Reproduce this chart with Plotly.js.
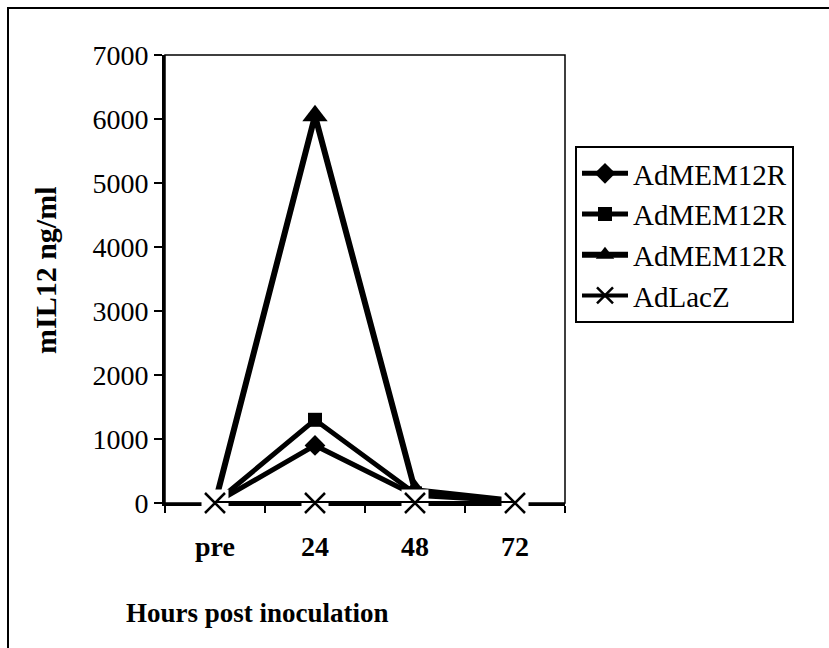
<!DOCTYPE html>
<html>
<head>
<meta charset="utf-8">
<script src="https://cdn.plot.ly/plotly-3.0.1.min.js"></script>
<style>
  html, body { margin: 0; padding: 0; background: #ffffff; }
  #chart { width: 829px; height: 648px; }
</style>
</head>
<body>
<div id="chart"></div>
<script>
// Serum mIL12 after inoculation, per vector
const hours = ['pre', '24', '48', '72'];
const seriesNames = ['AdMEM12R', 'AdMEM12R', 'AdMEM12R', 'AdLacZ'];
const memDiamond = [0, 900, 120, 30];
const memSquare = [0, 1300, 150, 30];
const memTriangle = [0, 6050, 200, 30];
const lacZ = [0, 0, 0, 0];
const yTicks = [0, 1000, 2000, 3000, 4000, 5000, 6000, 7000];

const serif = 'Liberation Serif, Times New Roman, serif';

function lineTrace(name, y, symbol, size, width, group) {
  return {
    x: hours, y: y, name: name, type: 'scatter', mode: 'lines+markers',
    legendgroup: group,
    line: { color: '#000000', width: width },
    marker: { symbol: symbol, size: size, color: '#000000' },
    cliponaxis: false
  };
}

const traces = [
  lineTrace(seriesNames[0], memDiamond, 'diamond', 16, 5, 'g1'),
  lineTrace(seriesNames[1], memSquare, 'square', 14, 5, 'g2'),
  lineTrace(seriesNames[2], memTriangle, 'triangle-up', 22, 6, 'g3'),
  // white pads behind the x markers
  {
    x: hours, y: lacZ, type: 'scatter', mode: 'markers', showlegend: false,
    hoverinfo: 'skip', cliponaxis: false,
    marker: { symbol: 'square', size: 27, color: '#ffffff', line: { width: 0 } }
  },
  {
    x: hours, y: lacZ, name: seriesNames[3], type: 'scatter', mode: 'lines+markers',
    legendgroup: 'g4', cliponaxis: false,
    line: { color: '#000000', width: 4 },
    marker: { symbol: 'x-thin', size: 20, color: '#000000', line: { color: '#000000', width: 2.5 } }
  }
];

const layout = {
  width: 829, height: 648,
  margin: { l: 165, r: 264, t: 55, b: 145 },
  paper_bgcolor: '#ffffff', plot_bgcolor: '#ffffff',
  font: { family: serif, color: '#000000', size: 26 },
  showlegend: true,
  legend: {
    x: 1.025, xanchor: 'left', y: 0.797, yanchor: 'top',
    bordercolor: '#000000', borderwidth: 2, bgcolor: '#ffffff',
    font: { family: serif, size: 29, color: '#000000' },
    tracegroupgap: 0, itemwidth: 46, traceorder: 'grouped'
  },
  xaxis: {
    type: 'category', range: [-0.5, 3.5],
    showline: true, linecolor: '#000000', linewidth: 3,
    ticks: 'outside', tickson: 'boundaries', ticklen: 7, tickwidth: 2, tickcolor: '#000000',
    ticklabelstandoff: 16,
    tickfont: { family: serif, size: 28, color: '#000000', weight: 'bold' },
    showgrid: false, zeroline: false, layer: 'below traces', fixedrange: true
  },
  yaxis: {
    range: [0, 7000], tickvals: yTicks,
    showline: true, linecolor: '#000000', linewidth: 3,
    ticks: 'outside', ticklen: 8, tickwidth: 2, tickcolor: '#000000',
    tickfont: { family: serif, size: 28, color: '#000000' },
    showgrid: false, zeroline: false, layer: 'below traces', fixedrange: true
  },
  shapes: [
    // thin frame around the plotting area
    { type: 'rect', xref: 'paper', yref: 'paper', x0: 0, x1: 1, y0: 0, y1: 1,
      line: { color: '#000000', width: 1.5 }, layer: 'below' },
    // outer frame of the figure
    { type: 'rect', xref: 'paper', yref: 'paper', x0: -0.3925, x1: 1.6725, y0: -0.335, y1: 1.1049,
      line: { color: '#000000', width: 2 }, layer: 'below' }
  ],
  annotations: [
    { text: '<b>Hours post inoculation</b>', xref: 'paper', yref: 'paper',
      x: 0.23, y: -0.2455, xanchor: 'center', yanchor: 'middle', showarrow: false,
      font: { family: serif, size: 27, color: '#000000' } },
    { text: '<b>mIL12 ng/ml</b>', xref: 'paper', yref: 'paper',
      x: -0.3, y: 0.52, xanchor: 'center', yanchor: 'middle', showarrow: false, textangle: -90,
      font: { family: serif, size: 30, color: '#000000' } }
  ]
};

Plotly.newPlot('chart', traces, layout, { displayModeBar: false, staticPlot: true });
</script>
</body>
</html>
